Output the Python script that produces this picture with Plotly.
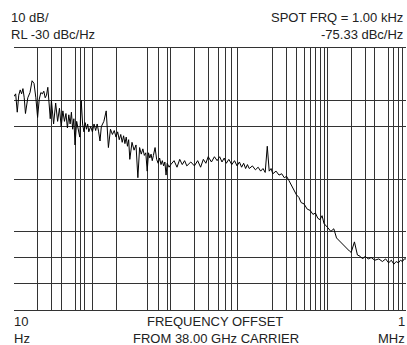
import plotly.graph_objects as go

# offset frequency (Hz) and phase noise (dBc/Hz)
freq_hz = [
    10, 10.5, 11, 11.5, 12, 12.5, 13, 13.5, 14, 15, 16, 17, 18, 19, 20, 21, 22, 23, 24, 25,
    26, 27, 28, 29, 30, 32, 34, 36, 38, 40, 42, 44, 46, 48, 50, 52, 54, 56, 58, 60,
    63, 66, 69, 72, 75, 78, 81, 84, 87, 90, 95,
    100, 105, 110, 115, 120, 125, 130, 140, 150, 160, 170, 180, 190, 200, 210, 220, 230, 240,
    250, 260, 270, 280, 290, 300, 320, 340, 360, 380, 400, 420, 440, 460, 480, 500, 520, 540,
    560, 580, 600, 630, 660, 690, 720, 750, 780, 810, 840, 870, 900, 950,
    1000, 1100, 1200, 1300, 1400, 1500, 1600, 1800, 2000, 2200, 2400, 2600, 2800, 3000, 3300,
    3600, 3900, 4200, 4500, 4800, 5100, 5500, 6000, 6500, 7000, 7500, 8000, 8500, 9000, 9500,
    10000, 11000, 12000, 13000, 14000, 15000, 16000, 17000, 18000, 19000, 20000, 22000, 24000,
    26000, 28000, 30000, 32000, 34000, 36000, 38000, 40000, 43000, 46000, 50000, 55000, 60000,
    65000, 70000, 75000, 80000, 85000, 90000, 95000,
    100000, 110000, 120000, 130000, 140000, 150000, 160000, 170000, 180000, 190000, 200000,
    220000, 240000, 260000, 280000, 300000, 330000, 360000, 400000, 450000, 500000, 550000,
    600000, 650000, 700000, 750000, 800000, 850000, 900000, 950000, 1000000,
]
noise_dbc = [
    -48.5, -47.5, -54.5, -48, -46, -47.5, -45.5, -49, -55, -49, -47, -42.5, -43.5, -49, -56.5,
    -49.5, -47, -47.5, -46.5, -49, -48, -45, -51, -57, -50, -59, -51, -58, -53, -60, -54, -58,
    -55, -60.5, -55.5, -59, -54.5, -61, -57, -67, -58, -61, -64, -50, -59, -62, -58.5, -61,
    -59, -62, -60,
    -62, -59, -61.5, -59, -62, -65.5, -60, -58, -54, -68, -61, -63, -61.5, -64, -62, -65, -63,
    -66, -63.5, -66.5, -64, -67.5, -65, -72.5, -66, -69, -67, -79.5, -68, -70.5, -68.5, -71,
    -70, -77, -70, -72, -70.5, -73, -71, -68, -72.5, -74, -72, -74.5, -73, -75, -73.5, -78.5,
    -74, -75.5,
    -74.5, -73, -75.5, -72.5, -74.5, -73, -75, -73.5, -75, -73, -75.5, -72.5, -74, -71.5,
    -73.5, -71.5, -73, -71.5, -73.5, -72, -74, -72.5, -74.5, -73, -75, -73.5, -75.5, -74, -76,
    -74.5,
    -76, -75, -76.5, -75.5, -77, -76, -77.5, -67.5, -77, -76, -78, -77, -78.5, -78, -79.5, -79,
    -80.5, -82, -83.5, -84.5, -86, -87, -89, -89.5, -91.5, -92, -93.5, -93, -95, -95.5, -94,
    -97, -98,
    -98.5, -100, -99, -102.5, -103.5, -104.5, -105.5, -106, -107, -107.5, -108, -104, -109,
    -109.5, -110.5, -109.5, -110.5, -110, -111, -110.5, -111.5, -110.5, -112, -111, -112.5,
    -111.5, -112, -111, -111.5, -110.5, -110.5,
]

# graticule lines that are visible on the screen dump
grid_freqs = [20, 30, 40, 60, 70, 80, 100, 200, 500, 700, 900, 1000, 2000, 3000, 4000, 5000,
              6000, 7000, 20000, 30000, 40000, 50000, 60000, 70000, 80000, 90000, 100000,
              200000, 300000, 400000, 600000, 700000, 800000, 900000]
grid_levels = [-120, -110, -100, -80, -60, -50]

W, H = 407, 345
L, R, T, B = 14, 1, 48, 35
pw, ph = W - L - R, H - T - B
font = "Liberation Sans, Arial, sans-serif"
ink = "#222222"

fig = go.Figure()
fig.add_trace(go.Scatter(x=freq_hz, y=noise_dbc, mode="lines",
                         line=dict(color="#000000", width=1), hoverinfo="skip"))

fig.update_xaxes(type="log", range=[1, 6], tickvals=grid_freqs, showticklabels=False,
                 ticks="", showgrid=True, gridcolor="#333333", gridwidth=1, zeroline=False,
                 showline=True, linecolor="#333333", linewidth=1, mirror=True)
fig.update_yaxes(range=[-130, -30], tickvals=grid_levels, showticklabels=False, ticks="",
                 showgrid=True, gridcolor="#333333", gridwidth=1, zeroline=False,
                 showline=False)


def px_x(x):
    return (x - L) / pw


def px_y(y):
    return (H - B - y) / ph


labels = [
    ("10 dB/", 8.5, 18, "left"),
    ("RL -30 dBc/Hz", 8.5, 34, "left"),
    ("SPOT FRQ = 1.00 kHz", 405, 18, "right"),
    ("-75.33 dBc/Hz", 405, 34, "right"),
    ("10", 12, 321, "left"),
    ("Hz", 12, 338, "left"),
    ("FREQUENCY OFFSET", 215, 321, "center"),
    ("FROM 38.00 GHz CARRIER", 216, 338, "center"),
    ("1", 407, 321, "right"),
    ("MHz", 407, 338, "right"),
]
for text, x, y, anchor in labels:
    fig.add_annotation(text=text, xref="paper", yref="paper", x=px_x(x), y=px_y(y),
                       xanchor=anchor, yanchor="middle", showarrow=False,
                       font=dict(family=font, size=13, color=ink))

fig.update_layout(width=W, height=H, margin=dict(l=L, r=R, t=T, b=B),
                  paper_bgcolor="white", plot_bgcolor="white", showlegend=False)

# drop the browser's default page margin so the figure sits at the window corner
fig.write_html("out.html", config={"displayModeBar": False},
               post_script="document.body.style.margin='0';document.body.style.overflow='hidden';")
